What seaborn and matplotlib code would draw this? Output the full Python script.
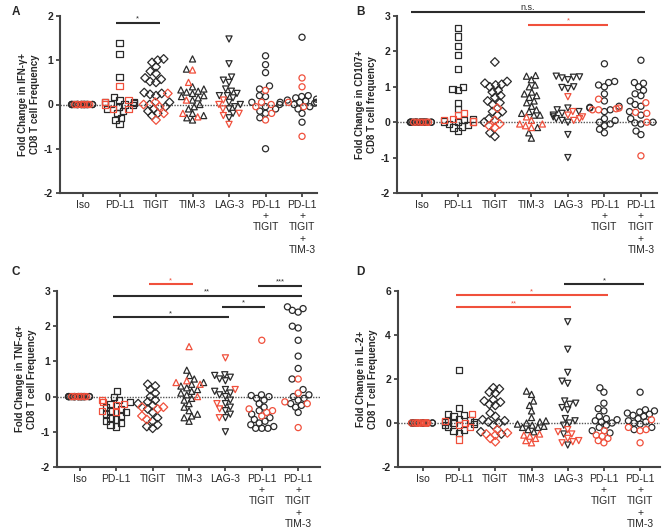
import warnings
import numpy as np
import pandas as pd
import matplotlib
matplotlib.use("Agg")
import matplotlib.pyplot as plt
import seaborn as sns

warnings.filterwarnings("ignore")

sns.set_style("ticks")
plt.rcParams['font.family'] = ['Liberation Sans', 'DejaVu Sans']

groups = ["Iso", "PD-L1", "TIGIT", "TIM-3", "LAG-3", "PD-L1+TIGIT", "PD-L1+TIGIT+TIM-3"]
tick_labels = ["Iso", "PD-L1", "TIGIT", "TIM-3", "LAG-3", "PD-L1\n+\nTIGIT", "PD-L1\n+\nTIGIT\n+\nTIM-3"]
markers = {"Iso": "o", "PD-L1": "s", "TIGIT": "D", "TIM-3": "^", "LAG-3": "v",
           "PD-L1+TIGIT": "o", "PD-L1+TIGIT+TIM-3": "o"}

# ---- Panel A: IFN-g ----
ifn_black = {
    "Iso": [0] * 20,
    "PD-L1": [1.38, 1.15, 0.63, 0.17, 0.1, 0.05, 0.05, 0.03, 0.02, 0.0, -0.02, -0.05, -0.1, -0.15, -0.2, -0.3, -0.35, -0.45],
    "TIGIT": [1.03, 1.0, 0.95, 0.85, 0.75, 0.7, 0.6, 0.57, 0.52, 0.5, 0.27, 0.25, 0.23, 0.2, 0.05, 0.0, -0.05, -0.1, -0.15, -0.2, -0.25],
    "TIM-3": [1.03, 0.8, 0.4, 0.35, 0.33, 0.3, 0.28, 0.25, 0.2, 0.18, 0.15, 0.1, 0.0, -0.05, -0.1, -0.2, -0.25, -0.3, -0.35],
    "LAG-3": [1.48, 0.92, 0.62, 0.55, 0.5, 0.35, 0.3, 0.25, 0.2, 0.2, 0.15, 0.05, 0.0, -0.05, -0.1, -0.2, -0.3],
    "PD-L1+TIGIT": [1.1, 0.9, 0.72, 0.42, 0.35, 0.2, 0.18, 0.05, 0.05, 0.0, -0.05, -0.1, -0.15, -0.2, -0.3, -1.0],
    "PD-L1+TIGIT+TIM-3": [1.52, 0.2, 0.18, 0.15, 0.12, 0.1, 0.08, 0.05, 0.05, 0.03, 0.0, -0.05, -0.1, -0.2, -0.4],
}
ifn_red = {
    "Iso": [0] * 6,
    "PD-L1": [0.42, 0.1, 0.05, 0.0, -0.1, -0.1],
    "TIGIT": [0.25, 0.05, 0.0, -0.05, -0.2, -0.35],
    "TIM-3": [0.78, 0.5, 0.1, -0.2, -0.28],
    "LAG-3": [0.1, 0.0, -0.1, -0.2, -0.25, -0.45],
    "PD-L1+TIGIT": [0.32, 0.05, 0.0, -0.05, -0.2, -0.35],
    "PD-L1+TIGIT+TIM-3": [0.6, 0.4, 0.05, -0.05, -0.72],
}

# ---- Panel B: CD107 ----
cd107_black = {
    "Iso": [0] * 20,
    "PD-L1": [2.65, 2.42, 2.15, 1.9, 1.5, 1.0, 0.95, 0.9, 0.55, 0.38, 0.1, 0.05, 0.02, 0.0, -0.05, -0.08, -0.12, -0.15, -0.25],
    "TIGIT": [1.7, 1.15, 1.1, 1.07, 1.05, 1.0, 0.9, 0.85, 0.75, 0.7, 0.6, 0.55, 0.5, 0.3, 0.3, 0.2, 0.1, 0.0, -0.3, -0.4],
    "TIM-3": [1.32, 1.3, 1.2, 1.05, 1.0, 0.85, 0.8, 0.75, 0.7, 0.6, 0.55, 0.45, 0.35, 0.3, 0.25, 0.2, 0.2, -0.15, -0.3, -0.45],
    "LAG-3": [1.3, 1.28, 1.27, 1.25, 1.2, 1.0, 0.98, 0.95, 0.4, 0.35, 0.3, 0.25, 0.2, 0.15, 0.1, 0.05, 0.0, -0.35, -1.0],
    "PD-L1+TIGIT": [1.65, 1.15, 1.12, 1.05, 1.0, 0.8, 0.6, 0.45, 0.42, 0.4, 0.35, 0.3, 0.1, 0.05, 0.0, -0.05, -0.1, -0.2, -0.3],
    "PD-L1+TIGIT+TIM-3": [1.75, 1.12, 1.1, 1.0, 0.9, 0.8, 0.75, 0.6, 0.5, 0.45, 0.3, 0.2, 0.1, 0.0, -0.02, -0.05, -0.25, -0.35],
}
cd107_red = {
    "Iso": [0] * 6,
    "PD-L1": [0.25, 0.2, 0.1, 0.05, 0.02, 0.02],
    "TIGIT": [0.4, 0.05, -0.05, -0.1, -0.15],
    "TIM-3": [0.15, 0.05, -0.05, -0.05, -0.1, -0.15],
    "LAG-3": [0.72, 0.3, 0.2, 0.15, 0.1, 0.05],
    "PD-L1+TIGIT": [0.65, 0.4, 0.38, 0.35, 0.35],
    "PD-L1+TIGIT+TIM-3": [0.55, 0.28, 0.25, 0.0, -0.95],
}

# ---- Panel C: TNF-a ----
tnf_black = {
    "Iso": [0] * 20,
    "PD-L1": [0.15, 0.0, -0.1, -0.15, -0.2, -0.3, -0.35, -0.4, -0.45, -0.5, -0.55, -0.6, -0.65, -0.7, -0.75, -0.8, -0.85],
    "TIGIT": [0.35, 0.3, 0.2, 0.1, 0.0, -0.1, -0.15, -0.2, -0.25, -0.35, -0.45, -0.6, -0.7, -0.8, -0.85, -0.9],
    "TIM-3": [0.75, 0.6, 0.5, 0.4, 0.35, 0.3, 0.25, 0.2, 0.15, 0.1, 0.05, -0.05, -0.1, -0.2, -0.3, -0.4, -0.5, -0.55, -0.6, -0.7],
    "LAG-3": [0.62, 0.6, 0.55, 0.5, 0.45, 0.2, 0.15, 0.1, 0.05, 0.0, -0.1, -0.2, -0.3, -0.4, -0.5, -0.6, -1.0],
    "PD-L1+TIGIT": [0.05, 0.03, 0.0, -0.05, -0.1, -0.2, -0.3, -0.4, -0.5, -0.6, -0.65, -0.7, -0.75, -0.8, -0.85, -0.9, -0.9, -0.9],
    "PD-L1+TIGIT+TIM-3": [2.55, 2.5, 2.45, 2.4, 2.0, 1.95, 1.6, 1.15, 0.8, 0.5, 0.2, 0.05, 0.0, -0.05, -0.1, -0.2, -0.25, -0.3, -0.45],
}
tnf_red = {
    "Iso": [0] * 6,
    "PD-L1": [-0.1, -0.15, -0.2, -0.25, -0.4, -0.45],
    "TIGIT": [-0.3, -0.3, -0.35, -0.55, -0.65],
    "TIM-3": [1.42, 0.45, 0.4, 0.35, 0.0],
    "LAG-3": [1.1, 0.2, -0.2, -0.35, -0.6],
    "PD-L1+TIGIT": [1.6, -0.35, -0.4, -0.45, -0.55],
    "PD-L1+TIGIT+TIM-3": [0.5, 0.1, -0.15, -0.2, -0.88],
}

# ---- Panel D: IL-2 ----
il2_black = {
    "Iso": [0] * 12,
    "PD-L1": [2.4, 0.7, 0.4, 0.35, 0.3, 0.2, 0.15, 0.1, 0.05, 0.05, 0.0, -0.05, -0.1, -0.2, -0.3, -0.35, -0.45],
    "TIGIT": [1.6, 1.55, 1.4, 1.35, 1.05, 1.0, 0.95, 0.85, 0.8, 0.45, 0.3, 0.15, 0.1, 0.05, 0.0, -0.1, -0.4, -0.5],
    "TIM-3": [1.45, 1.3, 1.0, 0.8, 0.55, 0.25, 0.1, 0.05, 0.0, -0.05, -0.1, -0.15, -0.2, -0.2, -0.3, -0.4],
    "LAG-3": [4.6, 3.35, 2.3, 1.9, 1.8, 1.0, 0.9, 0.85, 0.7, 0.6, 0.2, 0.1, 0.0, -0.1, -0.5, -1.0],
    "PD-L1+TIGIT": [1.6, 1.4, 0.9, 0.65, 0.55, 0.3, 0.2, 0.15, 0.1, 0.05, 0.0, -0.1, -0.2, -0.35, -0.45],
    "PD-L1+TIGIT+TIM-3": [1.4, 0.6, 0.55, 0.5, 0.45, 0.4, 0.35, 0.3, 0.2, 0.1, 0.05, 0.0, -0.05, -0.2, -0.3],
}
il2_red = {
    "Iso": [0] * 12,
    "PD-L1": [0.4, 0.1, 0.0, -0.1, -0.2, -0.75],
    "TIGIT": [-0.3, -0.45, -0.5, -0.55, -0.7, -0.85],
    "TIM-3": [-0.5, -0.55, -0.6, -0.7, -0.8, -0.9],
    "LAG-3": [-0.3, -0.4, -0.5, -0.7, -0.8, -0.85, -0.9],
    "PD-L1+TIGIT": [-0.35, -0.55, -0.6, -0.7, -0.8, -0.9],
    "PD-L1+TIGIT+TIM-3": [0.15, -0.2, -0.3, -0.35, -0.9],
}

# significance bars: (group from, group to, y, label, colour)
sig_a = [("PD-L1", "TIGIT", 1.85, "*", "k")]
sig_b = [("Iso", "PD-L1+TIGIT+TIM-3", 3.1, "n.s.", "k"),
         ("TIM-3", "PD-L1+TIGIT", 2.75, "*", "r")]
sig_c = [("TIGIT", "TIM-3", 3.2, "*", "r"),
         ("PD-L1+TIGIT", "PD-L1+TIGIT+TIM-3", 3.15, "***", "k"),
         ("PD-L1", "PD-L1+TIGIT+TIM-3", 2.87, "**", "k"),
         ("LAG-3", "PD-L1+TIGIT", 2.55, "*", "k"),
         ("PD-L1", "LAG-3", 2.26, "*", "k")]
sig_d = [("LAG-3", "PD-L1+TIGIT+TIM-3", 6.3, "*", "k"),
         ("PD-L1", "PD-L1+TIGIT", 5.8, "*", "r"),
         ("PD-L1", "LAG-3", 5.27, "**", "r")]

BLACK = "#2b2b2b"
RED = "#f0503c"
AXC = "#444444"
palette = {"black": BLACK, "red": RED}
LAYOUT_SIZE = 3.8   # marker size used to lay out the swarm (points overlap like Prism)
SHOW_SIZE = 4.4     # marker size actually drawn


def make_df(black, red):
    rows = []
    for g in groups:
        for v in black[g]:
            rows.append((g, v, "black"))
        for v in red[g]:
            rows.append((g, v, "red"))
    return pd.DataFrame(rows, columns=["group", "value", "cohort"])


def panel(ax, black, red, ylim, yticks, ylabel, sigs, xlim):
    df = make_df(black, red)
    np.random.seed(3)
    for g in groups:
        sub = df[df.group == g]
        if g == "Iso":
            sns.stripplot(data=sub, x="group", y="value", hue="cohort", order=groups,
                          hue_order=["black", "red"], palette=palette, jitter=0.33,
                          marker="o", size=LAYOUT_SIZE, legend=False, ax=ax)
        else:
            sns.swarmplot(data=sub, x="group", y="value", hue="cohort", order=groups,
                          hue_order=["black", "red"], palette=palette,
                          marker=markers[g], size=LAYOUT_SIZE, legend=False, ax=ax)
    for coll in ax.collections:
        fc = coll.get_facecolors()
        coll.set_edgecolors(fc)
        coll.set_facecolors("none")
        coll.set_linewidths(0.4)

    ax.axhline(0, color="#555555", lw=1.0, ls=(0, (1, 1)), zorder=0)
    ax.set_xlim(*xlim)
    ax.set_ylim(*ylim)
    ax.set_yticks(yticks)
    ax.set_yticklabels([str(t) for t in yticks], fontsize=7.5, fontweight="bold")
    ax.set_xticks(range(len(groups)))
    ax.set_xticklabels(tick_labels, fontsize=7.5, linespacing=1.15, va="top")
    ax.set_xlabel("")
    ax.set_ylabel(ylabel, fontsize=7, fontweight="bold", labelpad=3, linespacing=1.2)
    sns.despine(ax=ax)
    for s in ["left", "bottom"]:
        ax.spines[s].set_linewidth(1.5)
        ax.spines[s].set_color(AXC)
    ax.tick_params(axis="both", length=3, width=1.3, color=AXC, pad=2)

    for g1, g2, y, lab, c in sigs:
        col = BLACK if c == "k" else RED
        x1 = groups.index(g1) - 0.1
        x2 = groups.index(g2) + 0.1
        if lab == "n.s.":
            x1 -= 0.2
        ax.plot([x1, x2], [y, y], color=col, lw=1.5, clip_on=False, solid_capstyle="butt")
        ax.text((x1 + x2) / 2, y, lab, color=col, fontsize=5.5 if lab != "n.s." else 6.5,
                ha="center", va="bottom", clip_on=False)


W, H = 669, 531
fig = plt.figure(figsize=(W / 100, H / 100), dpi=100)


def axes_px(left, right, top, bottom):
    return fig.add_axes([left / W, 1 - bottom / H, (right - left) / W, (bottom - top) / H])


axA = axes_px(60, 317, 16, 193)
axB = axes_px(397, 657, 16, 193)
axC = axes_px(57, 320, 291, 467)
axD = axes_px(398, 660, 291, 467)

panel(axA, ifn_black, ifn_red, (-2, 2), [-2, -1, 0, 1, 2],
      "Fold Change in IFN-\u03b3+\nCD8 T cell Frequency", sig_a, (-0.63, 6.41))
panel(axB, cd107_black, cd107_red, (-2, 3), [-2, -1, 0, 1, 2, 3],
      "Fold Change in CD107+\nCD8 T cell frequency", sig_b, (-0.68, 6.44))
panel(axC, tnf_black, tnf_red, (-2, 3), [-2, -1, 0, 1, 2, 3],
      "Fold Change in TNF-\u03b1+\nCD8 T cell Frequency", sig_c, (-0.63, 6.6))
panel(axD, il2_black, il2_red, (-2, 6), [-2, 0, 2, 4, 6],
      "Fold Change in IL-2+\nCD8 T cell Frequency", sig_d, (-0.69, 6.55))

for lab, x, y in [("A", 12, 12), ("B", 356, 12), ("C", 12, 272), ("D", 356, 272)]:
    fig.text(x / W, 1 - y / H, lab, fontsize=8.5, fontweight="bold", ha="left", va="center")

# lay the swarms out with the smaller size, then freeze them and draw bigger markers
fig.canvas.draw()
for ax in fig.axes:
    for i, coll in enumerate(ax.collections):
        if "draw" in coll.__dict__:
            del coll.__dict__["draw"]
        scale = 0.92 if i == groups.index("TIGIT") else 1.0
        coll.set_sizes([(SHOW_SIZE * scale) ** 2])
        coll.set_linewidths(0.9)

fig.savefig("out.png", dpi=100)
